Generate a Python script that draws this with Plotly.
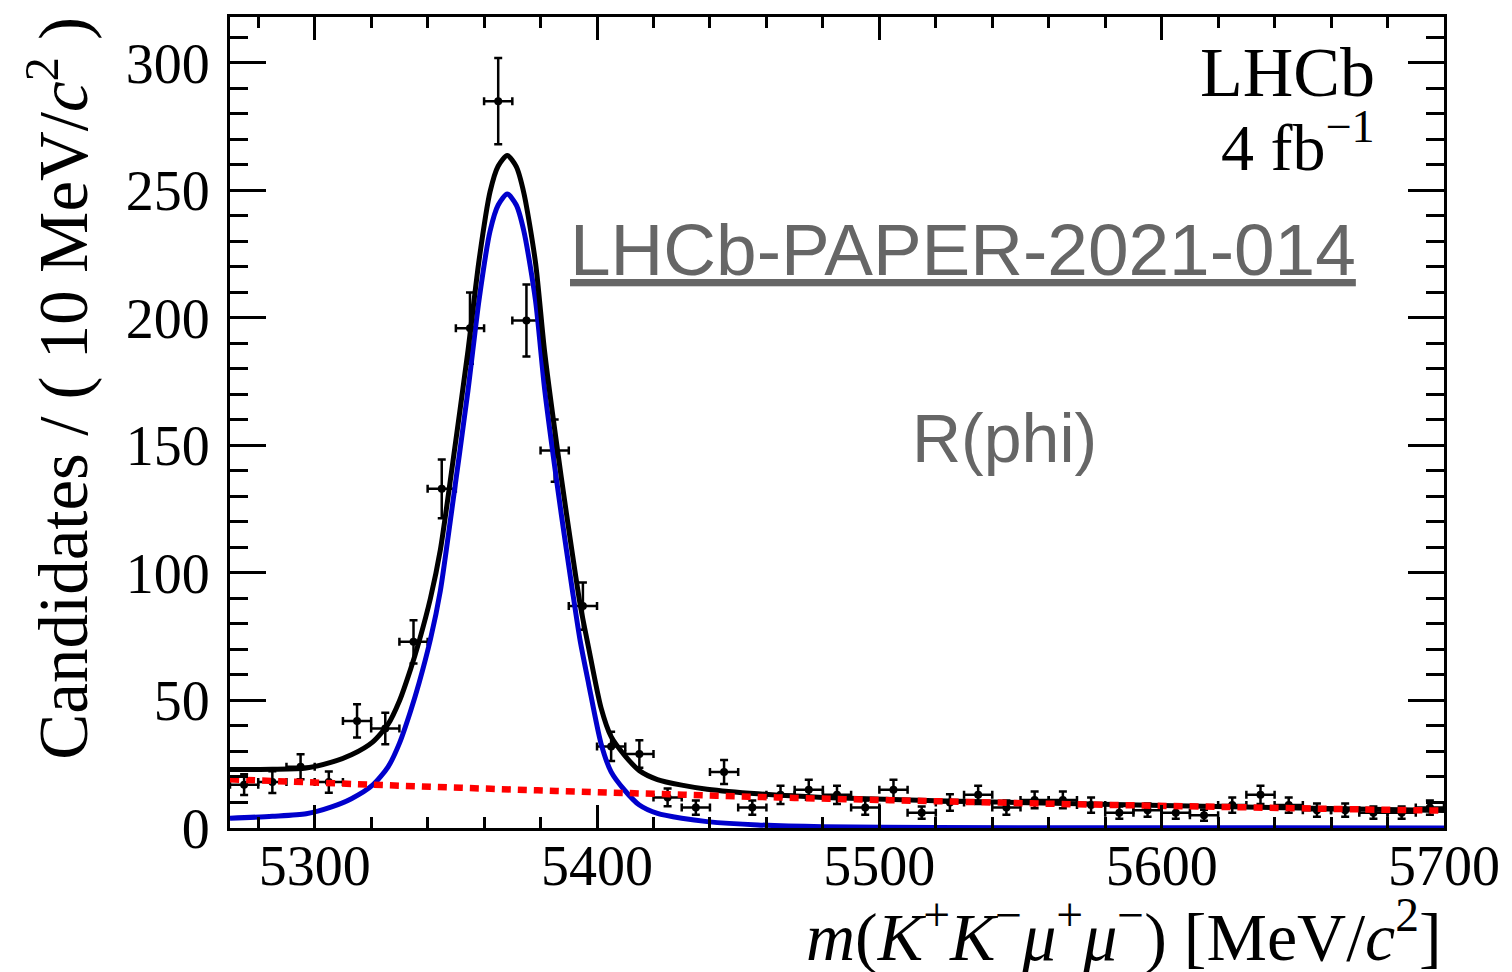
import plotly.graph_objects as go

# ---- data ----
bin_centers = [5275, 5285, 5295, 5305, 5315, 5325, 5335, 5345, 5355, 5365,
               5375, 5385, 5395, 5405, 5415, 5425, 5435, 5445, 5455, 5465,
               5475, 5485, 5495, 5505, 5515, 5525, 5535, 5545, 5555, 5565,
               5575, 5585, 5595, 5605, 5615, 5625, 5635, 5645, 5655, 5665,
               5675, 5685, 5695]
counts = [17, 18, 24, 18, 42, 39, 73, 133, 196, 285,
          199, 148, 87, 32, 29, 12, 8, 22, 8, 13,
          15, 13, 8, 15, 6, 10, 13, 8, 11, 11,
          9, 6, 7, 6, 5, 9, 13, 9, 7, 7,
          6, 6, 8]
count_err = [4.1, 4.3, 4.9, 4.2, 6.5, 6.2, 8.5, 11.5, 14.0, 16.9,
             14.1, 12.2, 9.3, 5.7, 5.4, 3.5, 2.8, 4.7, 2.8, 3.6,
             3.9, 3.6, 2.8, 3.9, 2.4, 3.2, 3.6, 2.8, 3.3, 3.3,
             3.0, 2.4, 2.6, 2.4, 2.2, 3.0, 3.6, 3.0, 2.6, 2.6,
             2.4, 2.4, 2.8]
bin_halfwidth = 5

curve_x = [5270, 5285, 5297, 5306, 5313, 5320.5, 5326, 5330, 5334, 5337, 5341,
           5344.5, 5348.4, 5354.3, 5358.2, 5362.1, 5365, 5368.2, 5371.4, 5374.1,
           5378.2, 5381.5, 5387.3, 5391.3, 5394, 5397, 5401.4, 5405, 5409.7,
           5415, 5421.4, 5430, 5439, 5457, 5480, 5520, 5600, 5700]
# signal component (blue)
sig_y = [3.8, 4.6, 5.6, 8.3, 11.5, 16.8, 24, 33.2, 46, 57, 74,
         93, 123.4, 171.6, 207, 234, 244.3, 248.6, 244.3, 234,
         207, 171.6, 123.4, 93, 73.6, 56.7, 33.2, 22, 14.9,
         9, 5.7, 3.8, 2.5, 1.2, 0.5, 0.2, 0.08, 0.03]
# total fit (black)
tot_y = [22.9, 23.0, 23.5, 25.8, 28.7, 33.7, 40.7, 49.8, 62.4, 73.3, 90.1,
         109, 139.2, 187.2, 222.5, 249.4, 259.6, 263.7, 259.3, 248.9,
         221.8, 186.2, 137.8, 107.3, 87.8, 70.8, 47.2, 35.8, 28.6,
         22.5, 19.0, 16.8, 15.2, 13.4, 12.0, 10.7, 8.8, 6.83]

# background component (red dashed)
bkg_x = [5270, 5320, 5370, 5420, 5470, 5520, 5570, 5620, 5670, 5700]
bkg_y = [19.1, 17.0, 15.1, 13.4, 11.8, 10.5, 9.3, 8.3, 7.3, 6.8]

x_range = [5270, 5700]
y_range = [0, 318]

fig = go.Figure()

fig.add_trace(go.Scatter(
    x=bin_centers, y=counts, mode="markers",
    marker=dict(color="black", size=8, symbol="circle"),
    error_y=dict(type="data", array=count_err, visible=True,
                 color="black", thickness=2.5, width=4),
    error_x=dict(type="constant", value=bin_halfwidth, visible=True,
                 color="black", thickness=2.5, width=4),
    showlegend=False))

fig.add_trace(go.Scatter(
    x=curve_x, y=sig_y, mode="lines",
    line=dict(color="#0000cc", width=5, shape="spline", smoothing=0.7),
    showlegend=False))

fig.add_trace(go.Scatter(
    x=curve_x, y=tot_y, mode="lines",
    line=dict(color="black", width=5, shape="spline", smoothing=0.7),
    showlegend=False))

fig.add_trace(go.Scatter(
    x=bkg_x, y=bkg_y, mode="lines",
    line=dict(color="#ff0000", width=6.5, dash="9px,7px", shape="spline"),
    showlegend=False))

serif = "Liberation Serif, Times New Roman, serif"
sans = "Liberation Sans, Arial, sans-serif"

axis_common = dict(
    showline=True, linecolor="black", linewidth=3, mirror="ticks",
    ticks="inside", tickcolor="black", tickwidth=3,
    showgrid=False, zeroline=False,
    tickfont=dict(family=serif, size=56, color="black"),
    ticklabeloverflow="allow",
)

fig.update_xaxes(range=x_range, dtick=100, tick0=5300, ticklen=23,
                 ticklabelstandoff=-13,
                 minor=dict(dtick=20, ticklen=11, ticks="inside",
                            tickcolor="black", tickwidth=3, tick0=5300),
                 **axis_common)
fig.update_yaxes(range=y_range, dtick=50, tick0=0, ticklen=36,
                 ticklabelstandoff=6,
                 minor=dict(dtick=10, ticklen=18, ticks="inside",
                            tickcolor="black", tickwidth=3),
                 **axis_common)

annotations = [
    dict(text="Candidates / ( 10 MeV/<i>c</i><sup>2</sup> )",
         xref="paper", yref="paper", x=-0.142, y=1.003,
         xanchor="center", yanchor="top", textangle=-90, showarrow=False,
         font=dict(family=serif, size=69, color="black")),
    dict(text="<i>m</i>(<i>K</i><sup>+</sup><i>K</i><sup>−</sup><i>μ</i><sup>+</sup><i>μ</i><sup>−</sup>) [MeV/<i>c</i><sup>2</sup>]",
         xref="paper", yref="paper", x=1.0, y=-0.128,
         xanchor="right", yanchor="middle", showarrow=False,
         font=dict(family=serif, size=68, color="black")),
    dict(text="LHCb", xref="paper", yref="paper", x=0.945, y=0.932,
         xanchor="right", yanchor="middle", showarrow=False,
         font=dict(family=serif, size=70, color="black")),
    dict(text="4 fb<sup>−1</sup>", xref="paper", yref="paper", x=0.945, y=0.845,
         xanchor="right", yanchor="middle", showarrow=False,
         font=dict(family=serif, size=66, color="black")),
    dict(text="<u>LHCb-PAPER-2021-014</u>", xref="paper", yref="paper",
         x=0.604, y=0.713, xanchor="center", yanchor="middle", showarrow=False,
         font=dict(family=sans, size=73, color="#666666")),
    dict(text="R(phi)", xref="paper", yref="paper", x=0.638, y=0.481,
         xanchor="center", yanchor="middle", showarrow=False,
         font=dict(family=sans, size=68, color="#666666")),
]

# frame at x 230..1455, y 17..828 of the 1512x972 window
fig.update_layout(
    width=1512, height=972,
    margin=dict(l=230, r=57, t=17, b=144),
    paper_bgcolor="white", plot_bgcolor="white",
    annotations=annotations,
)

# drop the browser's default 8 px page margin so the figure fills the window
fig.write_html("out.html",
               config={"displayModeBar": False},
               post_script="document.body.style.margin='0';"
                           "document.body.style.overflow='hidden';")
